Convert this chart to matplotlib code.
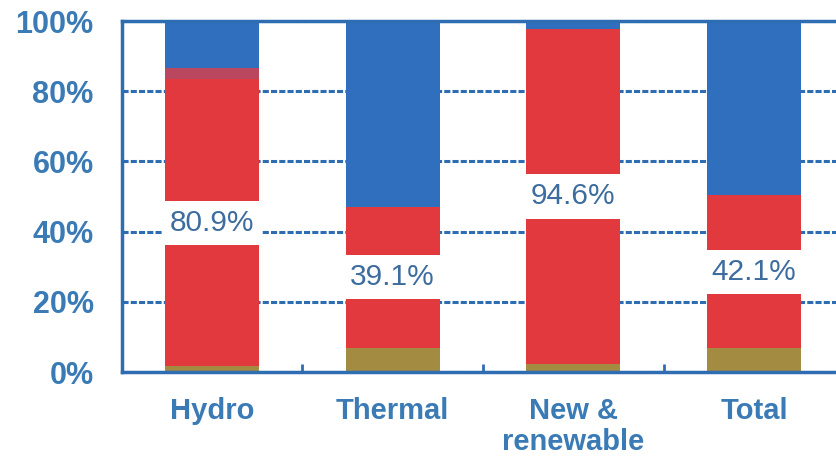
import matplotlib
matplotlib.use("Agg")
import matplotlib.pyplot as plt
import numpy as np

categories = ["Hydro", "Thermal", "New &\nrenewable", "Total"]
olive_vals = [1.7, 6.9, 2.3, 6.9]
red_vals = [81.7, 40.1, 95.4, 43.4]
purple_vals = [3.2, 0.0, 0.0, 0.0]
blue_vals = [13.4, 53.0, 2.3, 49.7]
labels = ["80.9%", "39.1%", "94.6%", "42.1%"]
yticks = [0, 20, 40, 60, 80, 100]

plt.rcParams['font.family'] = ['Liberation Sans', 'DejaVu Sans']

fig = plt.figure(figsize=(8.36, 4.57), dpi=100)
ax = fig.add_axes([121.5/836, 85/457, 723/836, 351/457])

blue_c = '#2f6fbd'
red_c = '#e1393e'
olive_c = '#a38b42'
purple_c = '#b8475f'
axis_c = '#2f6db3'
txt_c = '#3a7ab5'

x = np.arange(len(categories))
w = 0.52
olive = np.array(olive_vals)
red = np.array(red_vals)
purple = np.array(purple_vals)
blue = np.array(blue_vals)

ax.bar(x, olive, w, color=olive_c, zorder=2)
ax.bar(x, red, w, bottom=olive, color=red_c, zorder=2)
ax.bar(x, purple, w, bottom=olive + red, color=purple_c, zorder=2)
ax.bar(x, blue, w, bottom=olive + red + purple, color=blue_c, zorder=2)

for xi, b, h, lab in zip(x, olive, red, labels):
    ax.text(xi, b + h / 2, lab, ha='center', va='center', fontsize=21.5,
            color='#3d6c9e', zorder=5,
            bbox=dict(boxstyle='square,pad=0.27', facecolor='white', edgecolor='none'))

ax.set_xlim(-0.5, len(categories) - 0.5)
ax.set_ylim(0, 100)
ax.set_yticks(yticks)
ax.set_yticklabels([f"{v}%" for v in yticks], fontsize=22, fontweight='bold', color=txt_c)
ax.yaxis.grid(True, color=axis_c, linewidth=2.2, linestyle=(0, (2, 0.7)), zorder=1)
ax.set_axisbelow(True)
ax.tick_params(axis='y', length=0, pad=20)

ax.set_xticks(x)
ax.set_xticklabels(categories, fontsize=21, fontweight='bold', color=txt_c, linespacing=1.12)
ax.set_xticks(np.arange(0.5, len(categories) - 0.5, 1.0), minor=True)
ax.tick_params(axis='x', which='major', length=0, pad=18)
ax.tick_params(axis='x', which='minor', direction='in', length=6, width=2, color=axis_c)

for s in ['left', 'bottom', 'top']:
    ax.spines[s].set_color(axis_c)
    ax.spines[s].set_linewidth(2.5)
ax.spines['right'].set_visible(False)

fig.savefig("out.png", dpi=100)
